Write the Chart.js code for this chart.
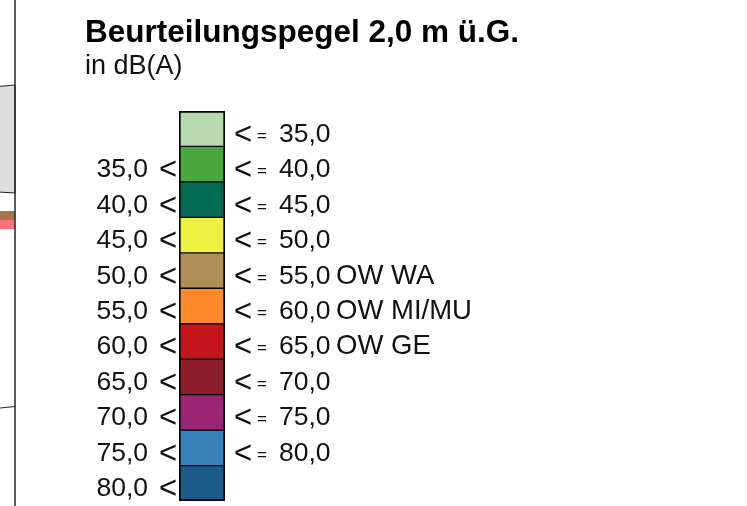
<!DOCTYPE html>
<html>
<head>
<meta charset="utf-8">
<style>
  html, body { margin: 0; padding: 0; background: #fff; }
  #wrap { position: relative; width: 747px; height: 506px; overflow: hidden; font-family: "Liberation Sans", sans-serif; color: #111; }
  #graph { position: absolute; left: 0; top: 0; }
  .title { position: absolute; left: 85px; top: 13px; font-size: 31.5px; font-weight: bold; white-space: nowrap; color: #000; }
  .unit { position: absolute; left: 85px; top: 50px; font-size: 27px; white-space: nowrap; }
  /* piece of the map at the left edge */
  #map { position: absolute; left: 0; top: 0; }
</style>
</head>
<body>
<div id="wrap">
  <svg id="map" width="16" height="506">
    <polygon points="-2,86.5 15,85 15,193 -2,192" fill="#dddddd" stroke="#222" stroke-width="1"/>
    <rect x="0" y="211" width="15" height="9" fill="#a5764a"/>
    <rect x="0" y="220" width="15" height="9" fill="#ff7078"/>
    <line x1="0" y1="408" x2="15" y2="406.5" stroke="#222" stroke-width="1"/>
    <line x1="15" y1="0" x2="15" y2="506" stroke="#222" stroke-width="1.5"/>
  </svg>
  <canvas id="graph" width="747" height="506"></canvas>
  <div class="title">Beurteilungspegel 2,0 m ü.G.</div>
  <div class="unit">in dB(A)</div>
</div>
<script src="https://cdn.jsdelivr.net/npm/chart.js@4"></script>
<script>
// Legend classes, top to bottom
const classColors = ['#b8d9b0', '#4aa63f', '#036b52', '#ecf23f', '#b08e57', '#ff8a2b', '#c4141c', '#8c1e2c', '#9c2573', '#3882bb', '#1c5a88'];
const classSize = [1, 1, 1, 1, 1, 1, 1, 1, 1, 1, 1];
const lowerLabels = ['', '35,0', '40,0', '45,0', '50,0', '55,0', '60,0', '65,0', '70,0', '75,0', '80,0'];
const upperLabels = ['35,0', '40,0', '45,0', '50,0', '55,0', '60,0', '65,0', '70,0', '75,0', '80,0', ''];
const noteLabels = ['', '', '', '', 'OW WA', 'OW MI/MU', 'OW GE', '', '', '', ''];

const fontName = '"Liberation Sans", sans-serif';
const labelFont = '26.5px ' + fontName;
const signFont = '31px ' + fontName;
const equalsFont = '17px ' + fontName;
const noteFont = '27.5px ' + fontName;

// Writes the class limits next to each colour box
const classLabels = {
  id: 'classLabels',
  afterDraw(chart) {
    const ctx = chart.ctx;
    const y = chart.scales.y;
    ctx.save();
    ctx.fillStyle = '#111';
    ctx.textBaseline = 'alphabetic';
    classColors.forEach((c, i) => {
      const py = y.getPixelForValue(i + 0.5) + 13;
      if (lowerLabels[i]) {
        ctx.textAlign = 'right';
        ctx.font = labelFont;
        ctx.fillText(lowerLabels[i], 148, py);
        ctx.font = signFont;
        ctx.fillText('<', 177, py + 2);
      }
      if (upperLabels[i]) {
        ctx.textAlign = 'left';
        ctx.font = signFont;
        ctx.fillText('<', 234, py + 2);
        ctx.font = equalsFont;
        ctx.fillText('=', 257, py - 1);
        ctx.font = labelFont;
        ctx.fillText(upperLabels[i], 279, py);
      }
      if (noteLabels[i]) {
        ctx.textAlign = 'left';
        ctx.font = noteFont;
        ctx.fillText(noteLabels[i], 336, py);
      }
    });
    ctx.restore();
  }
};

const datasets = classColors.map((color, i) => ({
  data: [classSize[i]],
  backgroundColor: color,
  borderColor: '#000',
  borderWidth: { top: i === 0 ? 2 : 1, bottom: i === classColors.length - 1 ? 2 : 1, left: 2, right: 2 },
  borderSkipped: false,
  barPercentage: 1,
  categoryPercentage: 1
}));

const ctx = document.getElementById('graph').getContext('2d');
new Chart(ctx, {
  type: 'bar',
  data: { labels: ['Beurteilungspegel'], datasets: datasets },
  options: {
    responsive: false,
    animation: false,
    layout: { padding: { left: 179, right: 522, top: 111, bottom: 5 } },
    scales: {
      x: { stacked: true, display: false },
      y: { stacked: true, display: false, reverse: true, min: 0, max: classColors.length }
    },
    plugins: { legend: { display: false }, tooltip: { enabled: false } }
  },
  plugins: [classLabels]
});
</script>
</body>
</html>
